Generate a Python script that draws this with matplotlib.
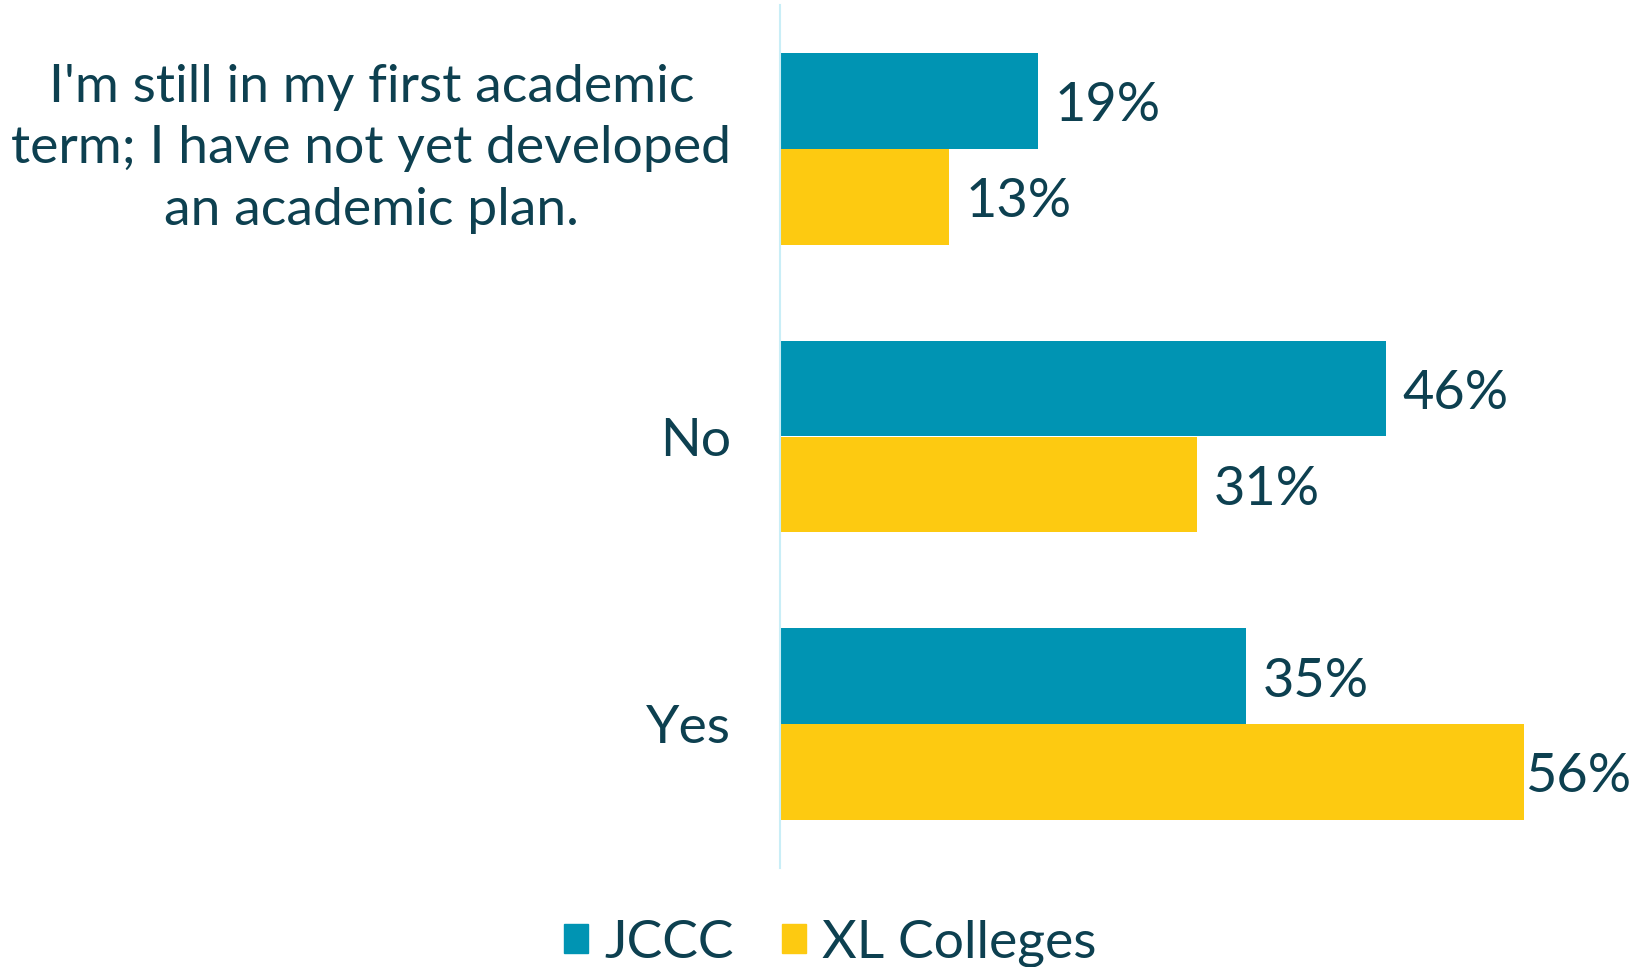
import matplotlib
matplotlib.use("Agg")
import matplotlib.pyplot as plt
from matplotlib.patches import Patch

categories = ["I'm still in my first academic\nterm; I have not yet developed\nan academic plan.", "No", "Yes"]
series_names = ["JCCC", "XL Colleges"]
jccc = [19.4, 45.6, 35.1]
xl = [12.7, 31.4, 56.0]

TEAL = "#0094B3"
YELLOW = "#FDCA11"
TEXT = "#0D4050"
AXIS = "#C9EEF7"

plt.rcParams['font.family'] = ['Lato', 'DejaVu Sans']

fig = plt.figure(figsize=(16.34, 9.67), dpi=100)
ax = fig.add_axes([780 / 1634, 1 - 868 / 967, (1634 - 780) / 1634, 863 / 967])

h = 1 / 3
ypos = list(range(len(categories)))
b1 = ax.barh([y - h / 2 for y in ypos], jccc, height=h, color=TEAL, label=series_names[0])
b2 = ax.barh([y + h / 2 for y in ypos], xl, height=h, color=YELLOW, label=series_names[1])

ax.set_ylim(2.5, -0.5)
ax.set_xlim(0, 64.3)

vmax = max(jccc + xl)
for bars, vals in ((b1, jccc), (b2, xl)):
    for rect, v in zip(bars, vals):
        pad = 1 if v == vmax else 12
        ax.annotate(f"{v:.0f}%", (v, rect.get_y() + rect.get_height() / 2),
                    xytext=(pad, -3.5), textcoords="offset points",
                    ha="left", va="center", fontsize=39, color=TEXT)

ax.set_yticks(ypos)
labels = ax.set_yticklabels(categories, fontsize=38.5, color=TEXT, multialignment="center",
                            linespacing=1.38)
for lab in labels:
    if "\n" in lab.get_text():
        lab.set_verticalalignment("center")
ax.tick_params(axis="y", length=0, pad=35)
ax.set_xticks([])
for s in ["top", "right", "bottom"]:
    ax.spines[s].set_visible(False)
ax.spines["left"].set_color(AXIS)
ax.spines["left"].set_linewidth(1.5)

handles = [Patch(color=TEAL, label=series_names[0]), Patch(color=YELLOW, label=series_names[1])]
leg = fig.legend(handles=handles, loc="lower center", bbox_to_anchor=(830 / 1634, -0.05),
                 ncol=2, frameon=False, fontsize=38.5, handlelength=0.45, handleheight=0.45,
                 handletextpad=0.3, columnspacing=0.9, labelcolor=TEXT)

fig.savefig("out.png", dpi=100)
